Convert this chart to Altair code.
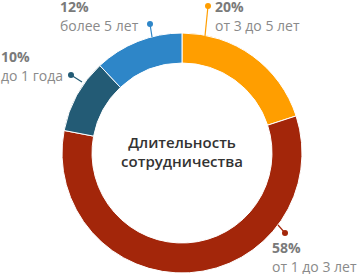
import altair as alt
import pandas as pd

# data
categories = ["от 3 до 5 лет", "от 1 до 3 лет", "до 1 года", "более 5 лет"]
values = [20, 58, 10, 12]
pct_labels = ["20%", "58%", "10%", "12%"]
colors = ["#FF9E00", "#A3260A", "#235B75", "#2E86C8"]
center_title = ["Длительность", "сотрудничества"]

# layout (pixels) for the annotations
CX, CY = 182, 153
R_OUT, R_IN = 120, 90
dot_x = [208, 285, 71, 150]
dot_y = [6, 233, 75, 24]
end_x = [205, 278, 82, 152]
end_y = [36, 225, 82, 37]
lab_x = [215, 272, 1, 60]
lab_y = [8, 249, 58, 8]
title_y = [143, 162]

df = pd.DataFrame({
    "cat": categories, "val": values, "pct": pct_labels, "order": list(range(4)),
    "dx": dot_x, "dy": dot_y, "ex": end_x, "ey": end_y,
    "lx": lab_x, "ly": lab_y,
})
df["ly2"] = df["ly"] + 19

color_scale = alt.Scale(domain=categories, range=colors)
base = alt.Chart(df)

arc = base.mark_arc(radius=R_OUT, radius2=R_IN, stroke="white", strokeWidth=1).encode(
    theta=alt.Theta("val:Q", stack=True),
    order=alt.Order("order:Q"),
    color=alt.Color("cat:N", scale=color_scale, legend=None),
    x=alt.value(CX), y=alt.value(CY),
)

lines = base.mark_rule(strokeWidth=1.2).encode(
    x=alt.X("dx:Q", scale=None), y=alt.Y("dy:Q", scale=None),
    x2="ex:Q", y2="ey:Q",
    color=alt.Color("cat:N", scale=color_scale, legend=None),
)
dots = base.mark_circle(size=36, opacity=1).encode(
    x=alt.X("dx:Q", scale=None), y=alt.Y("dy:Q", scale=None),
    color=alt.Color("cat:N", scale=color_scale, legend=None),
)

pct = base.mark_text(align="left", baseline="middle", font="Open Sans",
                     fontSize=14, fontWeight="bold", color="#7a7a7a").encode(
    x=alt.X("lx:Q", scale=None), y=alt.Y("ly:Q", scale=None), text="pct:N")
txt = base.mark_text(align="left", baseline="middle", font="Open Sans",
                     fontSize=14, color="#8a8a8a").encode(
    x=alt.X("lx:Q", scale=None), y=alt.Y("ly2:Q", scale=None), text="cat:N")

title_df = pd.DataFrame({"t": center_title, "ty": title_y})
title = alt.Chart(title_df).mark_text(align="center", baseline="middle", font="Open Sans",
                                      fontSize=15, fontWeight=600, color="#333333").encode(
    x=alt.value(CX),
    y=alt.Y("ty:Q", scale=None),
    text="t:N",
)

chart = alt.layer(arc, lines, dots, pct, txt, title).properties(
    width=360, height=274, padding=0, autosize=alt.AutoSizeParams(type="none")
).configure_view(stroke=None)

chart.save("out.html", embed_options={"renderer": "svg", "actions": False})
